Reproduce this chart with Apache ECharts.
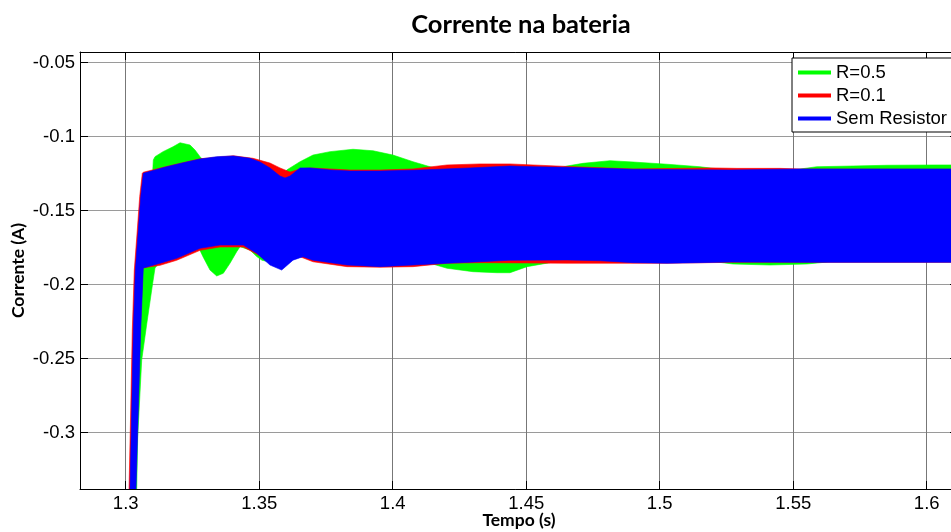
<!DOCTYPE html>
<html>
<head>
<meta charset="utf-8">
<script src="https://cdn.jsdelivr.net/npm/echarts@6/dist/echarts.min.js"></script>
<style>
html,body{margin:0;padding:0;background:#fff;overflow:hidden;}
#chart{width:951px;height:532px;}
</style>
</head>
<body>
<div id="chart"></div>
<script>
// Axis settings / labels
const titleText = 'Corrente na bateria';
const xName = 'Tempo (s)';
const yName = 'Corrente (A)';
const xMin = 1.28288, xMax = 1.61172;
const yMin = -0.33804, yMax = -0.04277;
const seriesNames = ['R=0.5', 'R=0.1', 'Sem Resistor'];
const seriesColors = ['#00ff00', '#ff0000', '#0000ff'];

// Envelopes (upper / lower) of the oscillating current, [time, current]
const greenUpper = [[1.30236,-0.345],[1.30348,-0.30],[1.30461,-0.24],[1.30573,-0.19],[1.30723,-0.15],[1.3091,-0.127],[1.31004,-0.126],[1.31034,-0.1157],[1.31097,-0.1135],[1.31397,-0.1101],[1.31772,-0.1068],[1.32034,-0.1041],[1.32408,-0.1056],[1.32596,-0.109],[1.32783,-0.1135],[1.32895,-0.1157],[1.33532,-0.1171],[1.34655,-0.1191],[1.3503,-0.1225],[1.35779,-0.1279],[1.3603,-0.1225],[1.36528,-0.1169],[1.37015,-0.1124],[1.37652,-0.1101],[1.38513,-0.1085],[1.39262,-0.1095],[1.40011,-0.1124],[1.4076,-0.1169],[1.41397,-0.1203],[1.41772,-0.122],[1.42895,-0.1228],[1.44768,-0.1228],[1.46266,-0.1211],[1.46528,-0.1198],[1.47127,-0.118],[1.48139,-0.1162],[1.49,-0.1171],[1.50273,-0.1186],[1.51509,-0.1203],[1.51996,-0.1214],[1.53382,-0.1228],[1.5488,-0.1228],[1.5588,-0.1203],[1.5724,-0.1198],[1.58513,-0.1193],[1.60386,-0.1191],[1.61172,-0.1191]];
const greenLower = [[1.30404,-0.345],[1.30449,-0.3029],[1.30599,-0.2509],[1.30798,-0.2252],[1.31011,-0.1989],[1.31097,-0.1887],[1.31285,-0.1847],[1.3191,-0.1813],[1.32408,-0.1766],[1.32719,-0.1743],[1.32895,-0.1811],[1.33157,-0.1901],[1.33408,-0.1941],[1.33655,-0.1923],[1.33906,-0.1855],[1.34157,-0.1777],[1.34281,-0.1743],[1.34655,-0.1766],[1.34906,-0.181],[1.35105,-0.1835],[1.35404,-0.1847],[1.35779,-0.184],[1.36528,-0.18],[1.38401,-0.184],[1.39524,-0.1855],[1.41397,-0.1855],[1.42034,-0.1889],[1.43007,-0.1912],[1.43906,-0.1919],[1.44393,-0.1919],[1.4503,-0.1878],[1.45891,-0.1851],[1.46266,-0.1833],[1.47764,-0.1822],[1.51509,-0.1833],[1.52745,-0.186],[1.54131,-0.1867],[1.55517,-0.186],[1.56378,-0.1845],[1.61172,-0.1845]];

const redUpper = [[1.30105,-0.345],[1.30124,-0.338],[1.30187,-0.2847],[1.30247,-0.2306],[1.30322,-0.1901],[1.30434,-0.163],[1.30524,-0.1405],[1.30622,-0.1247],[1.30659,-0.124],[1.31536,-0.1201],[1.32783,-0.1149],[1.3403,-0.1129],[1.34768,-0.1146],[1.35404,-0.1178],[1.35779,-0.1211],[1.36154,-0.1239],[1.36528,-0.1218],[1.36903,-0.1211],[1.38401,-0.1225],[1.39524,-0.1225],[1.4076,-0.1218],[1.42034,-0.1191],[1.4327,-0.1184],[1.44393,-0.1184],[1.45255,-0.1191],[1.46528,-0.1201],[1.49,-0.1218],[1.51996,-0.1211],[1.52895,-0.1214],[1.54506,-0.1214],[1.55255,-0.1218],[1.61172,-0.122]];
const redLower = [[1.3033,-0.345],[1.30348,-0.3387],[1.30453,-0.2847],[1.30543,-0.2306],[1.3064,-0.1887],[1.31285,-0.1869],[1.3191,-0.1835],[1.32783,-0.1768],[1.33532,-0.1745],[1.34404,-0.1745],[1.34906,-0.1793],[1.35404,-0.1847],[1.35843,-0.1874],[1.36266,-0.1826],[1.36528,-0.1811],[1.37015,-0.1845],[1.38288,-0.1878],[1.39524,-0.1882],[1.4076,-0.1878],[1.42034,-0.1855],[1.4327,-0.1851],[1.46528,-0.1855],[1.50273,-0.1855],[1.52633,-0.1849],[1.61172,-0.1849]];

const blueUpper = [[1.30142,-0.345],[1.30161,-0.338],[1.30225,-0.2847],[1.30285,-0.2306],[1.3036,-0.1901],[1.30472,-0.163],[1.30562,-0.1405],[1.30659,-0.1247],[1.31536,-0.1203],[1.32157,-0.1176],[1.32783,-0.1151],[1.33408,-0.1135],[1.3403,-0.113],[1.34655,-0.1146],[1.3503,-0.1171],[1.35404,-0.1211],[1.35779,-0.1266],[1.35966,-0.1279],[1.36154,-0.1266],[1.36528,-0.1211],[1.36903,-0.1211],[1.37652,-0.1225],[1.38401,-0.1232],[1.39524,-0.1232],[1.41022,-0.1225],[1.42895,-0.1211],[1.44393,-0.1198],[1.45255,-0.1203],[1.46528,-0.1207],[1.49,-0.122],[1.52633,-0.1225],[1.55255,-0.1218],[1.61172,-0.1218]];
const blueLower = [[1.30367,-0.345],[1.30386,-0.3387],[1.30472,-0.2847],[1.30562,-0.2306],[1.30659,-0.1887],[1.31285,-0.1855],[1.3191,-0.1822],[1.32783,-0.1754],[1.33532,-0.1732],[1.34404,-0.1732],[1.34906,-0.1788],[1.35404,-0.1867],[1.35843,-0.1901],[1.36266,-0.1834],[1.3664,-0.1811],[1.37015,-0.1834],[1.38288,-0.1867],[1.39524,-0.1878],[1.4076,-0.1867],[1.42034,-0.1855],[1.4327,-0.1845],[1.44393,-0.1835],[1.46528,-0.1833],[1.47764,-0.1838],[1.49,-0.1851],[1.50273,-0.1855],[1.51509,-0.1851],[1.52633,-0.1847],[1.55255,-0.1849],[1.61172,-0.1849]];

const bands = [[greenUpper, greenLower], [redUpper, redLower], [blueUpper, blueLower]];

function bandData(upper, lower) {
  return upper.concat(lower.slice().reverse());
}
function bandRender(n) {
  return function (params, api) {
    if (params.dataIndex !== 0) return null;
    const pts = [];
    for (let i = 0; i < n; i++) {
      pts.push(api.coord([api.value(0, i), api.value(1, i)]));
    }
    return { type: 'polygon', shape: { points: pts }, style: { fill: api.visual('color'), stroke: api.visual('color'), lineWidth: 0.6 } };
  };
}

const labelFont = { fontFamily: 'Liberation Sans', fontSize: 18.5, color: '#000' };
const nameFont = { fontFamily: 'Lato', fontWeight: 'bold', fontSize: 17.5, color: '#000' };

const series = bands.map(function (b, k) {
  const d = bandData(b[0], b[1]);
  return {
    type: 'custom',
    name: seriesNames[k],
    clip: true,
    itemStyle: { color: seriesColors[k] },
    encode: { x: 0, y: 1 },
    data: d,
    renderItem: bandRender(d.length),
    silent: true
  };
});

const chart = echarts.init(document.getElementById('chart'), null, { renderer: 'canvas' });
chart.setOption({
  animation: false,
  backgroundColor: '#fff',
  title: {
    text: titleText,
    left: 521, top: 12, padding: 0, textAlign: 'center',
    textStyle: { fontFamily: 'Lato', fontWeight: 'bold', fontSize: 25.5, color: '#000' }
  },
  legend: {
    left: 792, top: 58, orient: 'vertical',
    padding: [5, 8, 4, 6], itemGap: 4,
    itemWidth: 33, itemHeight: 4,
    backgroundColor: '#fff', borderColor: '#000', borderWidth: 1, borderRadius: 0,
    textStyle: labelFont,
    data: seriesNames.map(function (n) { return { name: n, icon: 'rect' }; })
  },
  grid: { left: 80, top: 52, right: -7, bottom: 43, outerBoundsMode: 'none', containLabel: false },
  xAxis: [{
    type: 'value', min: xMin, max: xMax, minInterval: 0.05, maxInterval: 0.05,
    name: xName, nameLocation: 'middle', nameGap: 22, nameMoveOverlap: false, nameTextStyle: nameFont,
    axisLine: { show: true, onZero: false, lineStyle: { color: '#000', width: 1 } },
    axisTick: { show: true, inside: true, length: 8, lineStyle: { color: '#000' } },
    axisLabel: { margin: 5, showMinLabel: false, showMaxLabel: false, ...labelFont },
    splitLine: { show: true, lineStyle: { color: '#777', width: 1 } }
  }, {
    type: 'value', position: 'top', min: xMin, max: xMax, minInterval: 0.05, maxInterval: 0.05,
    axisLine: { show: true, onZero: false, lineStyle: { color: '#000', width: 1 } },
    axisTick: { show: true, inside: true, length: 8, lineStyle: { color: '#000' } },
    axisLabel: { show: false }, splitLine: { show: false }
  }],
  yAxis: [{
    type: 'value', min: yMin, max: yMax, minInterval: 0.05, maxInterval: 0.05,
    name: yName, nameLocation: 'middle', nameGap: 53, nameMoveOverlap: false, nameTextStyle: nameFont,
    axisLine: { show: true, onZero: false, lineStyle: { color: '#000', width: 1 } },
    axisTick: { show: true, inside: true, length: 8, lineStyle: { color: '#000' } },
    axisLabel: { margin: 5, showMinLabel: false, showMaxLabel: false, ...labelFont },
    splitLine: { show: true, lineStyle: { color: '#9a9a9a', width: 1 } }
  }, {
    type: 'value', position: 'right', min: yMin, max: yMax, minInterval: 0.05, maxInterval: 0.05,
    axisLine: { show: true, onZero: false, lineStyle: { color: '#000', width: 1 } },
    axisTick: { show: true, inside: true, length: 8, lineStyle: { color: '#000' } },
    axisLabel: { show: false }, splitLine: { show: false }
  }],
  series: series
});
</script>
</body>
</html>
